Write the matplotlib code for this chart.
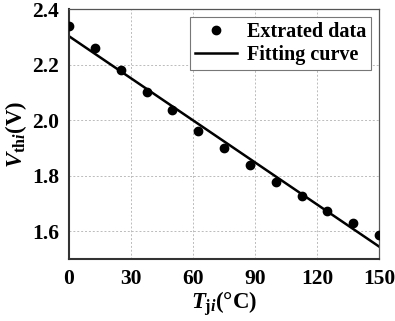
import matplotlib.pyplot as plt
import numpy as np

plt.rcParams['font.family'] = 'Liberation Serif'
plt.rcParams['font.weight'] = 'bold'
plt.rcParams['axes.labelweight'] = 'bold'
plt.rcParams['mathtext.fontset'] = 'custom'
plt.rcParams['mathtext.rm'] = 'Liberation Serif:bold'
plt.rcParams['mathtext.it'] = 'Liberation Serif:italic:bold'
plt.rcParams['mathtext.bf'] = 'Liberation Serif:bold'

# junction temperature (°C) and extracted threshold voltage (V)
temp = [0, 12.5, 25, 37.5, 50, 62.5, 75, 87.5, 100, 112.5, 125, 137.5, 150]
vth = [2.338, 2.259, 2.181, 2.103, 2.035, 1.960, 1.900, 1.837, 1.777,
       1.726, 1.673, 1.629, 1.586]

# linear fit end points
fit_x = [0, 150]
fit_y = [2.302, 1.545]

xticks = [0, 30, 60, 90, 120, 150]
yticks = [1.6, 1.8, 2.0, 2.2, 2.4]

fig = plt.figure(figsize=(3.95, 3.21), dpi=100)
ax = fig.add_axes([69 / 395, 62 / 321, 310 / 395, 250 / 321])

ax.plot(temp, vth, 'o', color='black', markersize=6, label='Extrated data', zorder=3)
ax.plot(fit_x, fit_y, '-', color='black', linewidth=1.8, label='Fitting curve', zorder=2)

ax.set_xlim(0, 150)
ax.set_ylim(1.5, 2.4)
ax.set_xticks(xticks)
ax.set_yticks(yticks)
ax.set_yticklabels([f'{v:.1f}' for v in yticks])
ax.tick_params(length=0, labelsize=15.5, pad=7)
ax.grid(True, color='#bbbbbb', linestyle=(0, (2, 2)), linewidth=0.7)

for side in ['left', 'bottom']:
    ax.spines[side].set_color('#333333')
    ax.spines[side].set_linewidth(1.5)
for side in ['top', 'right']:
    ax.spines[side].set_color('#555555')
    ax.spines[side].set_linewidth(0.9)

ax.set_xlabel(r'$T_{\mathrm{j}i}$(°C)', fontsize=16.5, labelpad=0)
ax.set_ylabel(r'$V_{\mathrm{th}i}$(V)', fontsize=16.5, labelpad=2)

leg = ax.legend(loc='upper right', fontsize=14.5, fancybox=False, framealpha=1,
                edgecolor='#777777', handlelength=2.1, borderpad=0.25,
                labelspacing=0.15, handletextpad=0.45, borderaxespad=0.4)
leg.get_frame().set_linewidth(0.8)

fig.savefig('out.png', dpi=100)
